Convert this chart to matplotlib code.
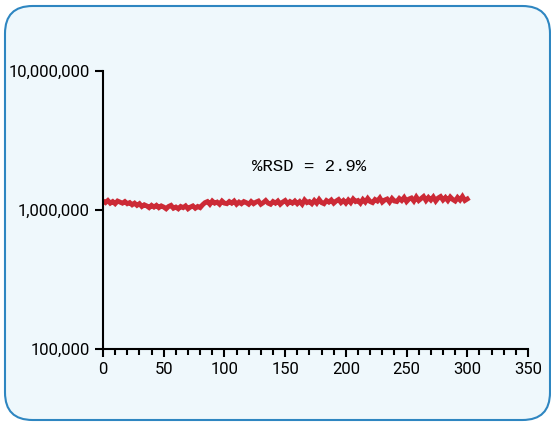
import matplotlib
matplotlib.use('Agg')
import matplotlib.pyplot as plt
from matplotlib.patches import FancyBboxPatch
from matplotlib.ticker import FuncFormatter, MultipleLocator, FixedLocator
import numpy as np

# measurement times (every 2 units) and responses in millions
x_step = 2
signal = [1.16, 1.13, 1.17, 1.12, 1.15, 1.11, 1.16, 1.14, 1.12, 1.15, 1.11,
          1.13, 1.09, 1.12, 1.08, 1.11, 1.06, 1.09, 1.07, 1.04, 1.08,
          1.05, 1.08, 1.04, 1.07, 1.05, 1.02, 1.06, 1.08, 1.03, 1.05,
          1.02, 1.06, 1.04, 1.07, 1.02, 1.05, 1.07, 1.03, 1.06, 1.04,
          1.09, 1.13, 1.15, 1.10, 1.16, 1.12, 1.14, 1.10, 1.16, 1.12,
          1.11, 1.15, 1.12, 1.16, 1.10, 1.14, 1.11, 1.15, 1.13, 1.10,
          1.15, 1.11, 1.14, 1.16, 1.10, 1.13, 1.17, 1.12, 1.10, 1.15,
          1.12, 1.16, 1.10, 1.14, 1.17, 1.11, 1.15, 1.12, 1.16, 1.11,
          1.15, 1.10, 1.18, 1.13, 1.15, 1.11, 1.17, 1.12, 1.19, 1.13,
          1.11, 1.17, 1.14, 1.18, 1.12, 1.16, 1.19, 1.13, 1.17, 1.12,
          1.18, 1.13, 1.20, 1.15, 1.17, 1.12, 1.19, 1.14, 1.21, 1.15,
          1.13, 1.19, 1.16, 1.22, 1.14, 1.18, 1.20, 1.14, 1.21, 1.16,
          1.15, 1.21, 1.17, 1.23, 1.15, 1.20, 1.22, 1.16, 1.24, 1.17,
          1.21, 1.25, 1.17, 1.23, 1.18, 1.24, 1.16, 1.22, 1.25, 1.18,
          1.23, 1.17, 1.24, 1.19, 1.16, 1.23, 1.18, 1.25, 1.17, 1.20]
x_ticks = [0, 50, 100, 150, 200, 250, 300, 350]
y_ticks = [1e5, 1e6, 1e7]
label = "%RSD = 2.9%"

x = np.arange(len(signal)) * x_step
y = np.array(signal) * 1e6

plt.rcParams['font.family'] = ['Liberation Sans Narrow', 'Roboto', 'DejaVu Sans']

fig = plt.figure(figsize=(5.51, 4.25), dpi=100)
fig.patch.set_facecolor('white')

box = FancyBboxPatch((5 / 551, 5 / 425), 545 / 551, 414 / 425,
                     boxstyle="round,pad=0,rounding_size=0.05",
                     transform=fig.transFigure, facecolor='#eff8fc',
                     edgecolor='#2e86c1', linewidth=1.5, mutation_aspect=551 / 425,
                     zorder=-10)
fig.patches.append(box)

ax = fig.add_axes([103 / 551, 1 - 349 / 425, 425 / 551, 278 / 425])
ax.set_zorder(5)
ax.set_facecolor('none')
ax.plot(x, y, color='#cc2a36', linewidth=3.5, solid_joinstyle='miter')

ax.set_yscale('log')
ax.set_xlim(0, 350)
ax.set_ylim(1e5, 1e7)
ax.yaxis.set_major_locator(FixedLocator(y_ticks))
ax.yaxis.set_minor_locator(FixedLocator([]))
ax.yaxis.set_major_formatter(FuncFormatter(lambda v, p: f"{int(round(v)):,}"))
ax.set_xticks(x_ticks)
ax.xaxis.set_minor_locator(MultipleLocator(10))

for s in ['top', 'right']:
    ax.spines[s].set_visible(False)
for s in ['left', 'bottom']:
    ax.spines[s].set_linewidth(1.5)
ax.tick_params(axis='both', which='major', direction='out', length=6, width=1.5,
               labelsize=12, colors='black')
ax.tick_params(axis='x', which='minor', direction='out', length=4, width=1.5)

ax.text(170, 2.07e6, label, ha='center', va='center', fontsize=12.5,
        family=['Liberation Mono', 'DejaVu Sans Mono'])

fig.savefig('out.png', dpi=100)
